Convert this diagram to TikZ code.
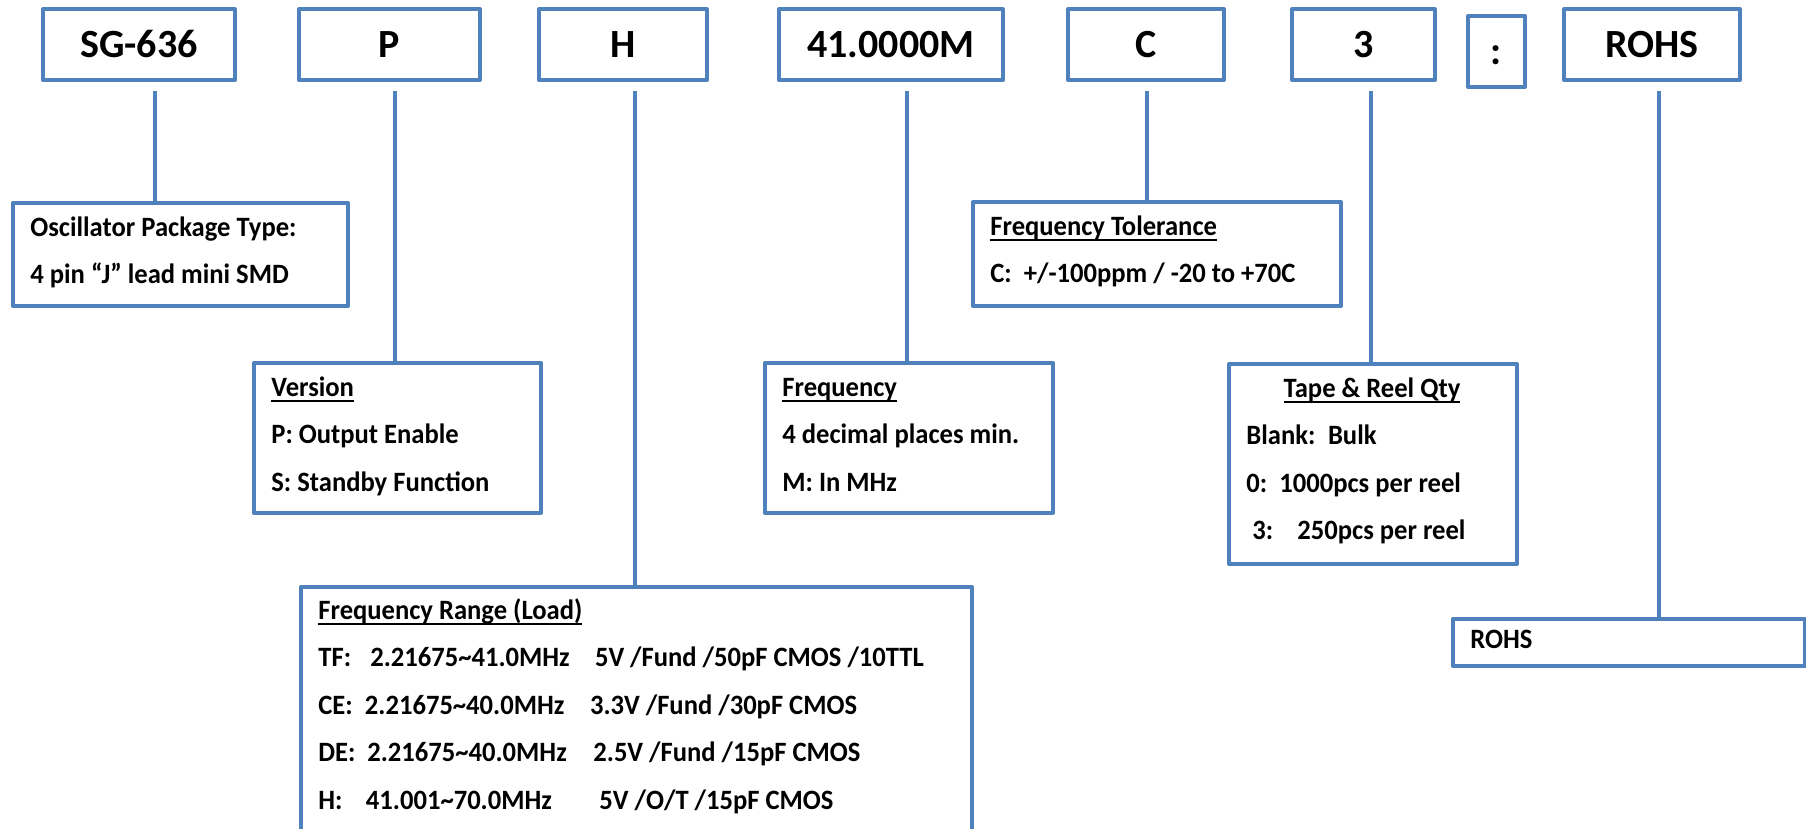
\documentclass[tikz,border=0pt]{standalone}
\usepackage{fontspec}
\setmainfont{Carlito}
\newfontfamily\bodyfont{Carlito}[FakeStretch=0.95]
\definecolor{boxblue}{HTML}{4F81BD}
\newcommand{\rcol}[2]{\makebox[#1][l]{#2}}
\newsavebox{\ulbox}
\newcommand{\uln}[1]{\sbox{\ulbox}{#1}\rlap{\rule[-2.8pt]{\wd\ulbox}{0.9pt}}\usebox{\ulbox}}
\tikzset{
  codebox/.style={draw=boxblue, line width=2pt, line join=round, inner sep=0pt,
    minimum height=35.5pt, text height=12.9pt, text depth=0pt,
    font=\fontsize{20}{24}\selectfont\bfseries},
  panel/.style={draw=boxblue, line width=2pt, line join=round, inner sep=0pt, anchor=north west},
  entry/.style={anchor=base west, inner sep=0pt, font=\bodyfont\fontsize{14}{17}\selectfont\bfseries},
  link/.style={draw=boxblue, line width=2pt},
}
\begin{document}
\begin{tikzpicture}[x=0.5pt, y=-0.5pt]
    \useasboundingbox (0,0) rectangle (1806,829);
    \clip (0,0) rectangle (1806,829);
    % part number fields
    \node[codebox, minimum width=96pt]   (sg)   at (139,44.5)    {SG-636};
    \node[codebox, minimum width=90.5pt] (ver)  at (389.5,44.5)  {P};
    \node[codebox, minimum width=84pt]   (rng)  at (623,44.5)    {H};
    \node[codebox, minimum width=112pt]  (frq)  at (891,44.5)    {41.0000M};
    \node[codebox, minimum width=78pt]   (tol)  at (1146,44.5)   {C};
    \node[codebox, minimum width=71.5pt] (qty)  at (1363.5,44.5) {3};
    \node[codebox, minimum width=28.5pt] (sep)  at (1496.5,51.5) {:};
    \node[codebox, minimum width=88pt]   (rohs) at (1652,44.5)   {ROHS};
    % description panels
    \node[panel, minimum width=167.5pt, minimum height=51.5pt] (pkgbox)  at (11,201)   {};
    \node[panel, minimum width=143.5pt, minimum height=75pt]   (verbox)  at (252,361)  {};
    \node[panel, minimum width=335.5pt, minimum height=147pt]  (rngbox)  at (299,585)  {};
    \node[panel, minimum width=144pt,   minimum height=75pt]   (frqbox)  at (763,361)  {};
    \node[panel, minimum width=184pt,   minimum height=52pt]   (tolbox)  at (971,200)  {};
    \node[panel, minimum width=144pt,   minimum height=100pt]  (qtybox)  at (1227,362) {};
    \node[panel, minimum width=176pt,   minimum height=23.5pt] (rohsbox) at (1451,617) {};
    % connectors
    \foreach \a/\b/\dx in {sg/pkgbox/16, ver/verbox/5.5, rng/rngbox/12, frq/frqbox/16,
                           tol/tolbox/1, qty/qtybox/7.5, rohs/rohsbox/7} {
        \coordinate (\a-tip) at ([shift={(\dx,9)}]\a.south);
        \draw[link] (\a-tip) -- (\a-tip |- \b.north);
    }
    % panel texts
    \foreach \t [count=\i from 0] in {Oscillator Package Type:, 4 pin “J” lead mini SMD}
        \node[entry] (pkg\i) at ([shift={(19,35+47.5*\i)}]pkgbox.north west) {\t};
    \foreach \t [count=\i from 0] in {{\uln{Version}}, P: Output Enable, S: Standby Function}
        \node[entry] (ver\i) at ([shift={(19,35+47.5*\i)}]verbox.north west) {\t};
    \foreach \t [count=\i from 0] in {{\uln{Frequency}}, 4 decimal places min., M: In MHz}
        \node[entry] (frq\i) at ([shift={(19,35+47.5*\i)}]frqbox.north west) {\t};
    \foreach \t [count=\i from 0] in {{\uln{Frequency Tolerance}}, {C:\ \ +/-100ppm / -20 to +70C}}
        \node[entry] (tol\i) at ([shift={(19,35+47.5*\i)}]tolbox.north west) {\t};
    \node[entry, anchor=base] (qty0) at ([shift={(-1,35)}]qtybox.north) {\uln{Tape \& Reel Qty}};
    \foreach \t [count=\i from 1] in {{\rcol{40.8pt}{Blank:}Bulk},
                                      {\rcol{16.5pt}{0:}1000pcs per reel},
                                      {\hspace*{3pt}\rcol{22.5pt}{3:}250pcs per reel}}
        \node[entry] (qty\i) at ([shift={(19,35+47.5*\i)}]qtybox.north west) {\t};
    \foreach \t [count=\i from 0] in {{\uln{Frequency Range (Load)}},
        {\rcol{26pt}{TF:}\rcol{112.3pt}{2.21675\textasciitilde 41.0MHz}5V /Fund /50pF CMOS /10TTL},
        {\rcol{23.3pt}{CE:}\rcol{112.5pt}{2.21675\textasciitilde 40.0MHz}3.3V /Fund /30pF CMOS},
        {\rcol{24.5pt}{DE:}\rcol{113pt}{2.21675\textasciitilde 40.0MHz}2.5V /Fund /15pF CMOS},
        {\rcol{23.8pt}{H:}\rcol{116.7pt}{41.001\textasciitilde 70.0MHz}5V /O/T /15pF CMOS}}
        \node[entry] (rng\i) at ([shift={(19,34+47.5*\i)}]rngbox.north west) {\t};
    \node[entry] (rohs0) at ([shift={(19,31)}]rohsbox.north west) {ROHS};
\end{tikzpicture}
\end{document}
